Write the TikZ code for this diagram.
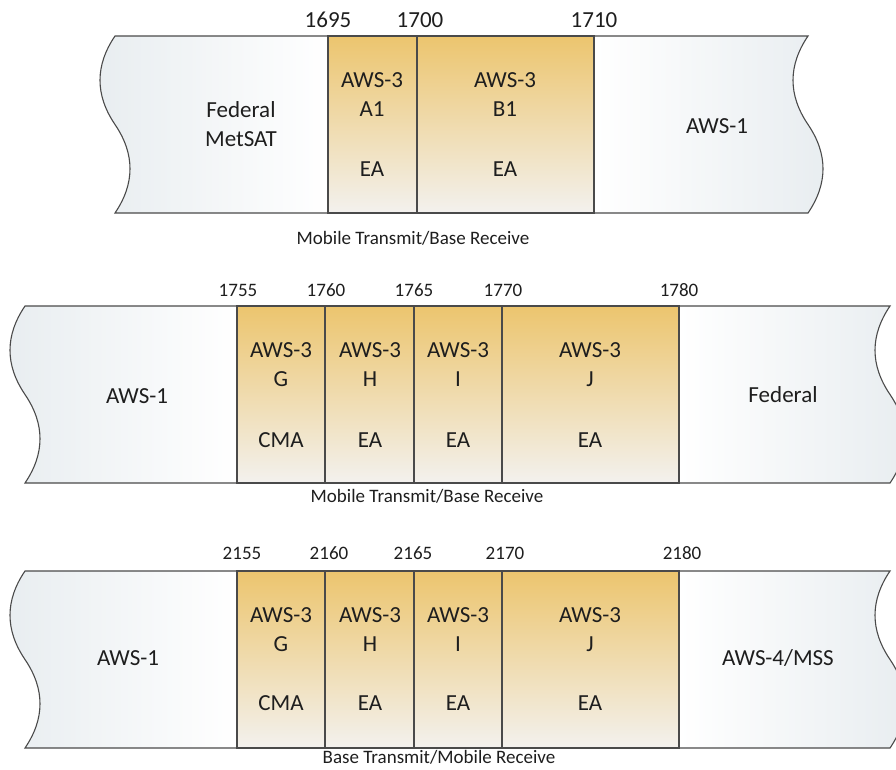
\documentclass[tikz,border=0pt]{standalone}
\usepackage{fontspec}
\setmainfont{Carlito}
\definecolor{gold}{HTML}{ECC56E}
\definecolor{goldmid}{HTML}{F6E5BC}
\definecolor{goldlow}{HTML}{F3F1EE}
\definecolor{sidegray}{HTML}{E8EDF0}
\definecolor{edgeline}{HTML}{4A4A4A}
\definecolor{ink}{HTML}{1E1E1E}
\tikzset{
  bandline/.style={draw=edgeline, line width=1.1pt},
  goldfill/.style={top color=gold, middle color=goldmid, bottom color=goldlow},
  leftfill/.style={left color=sidegray, right color=white},
  rightfill/.style={left color=white, right color=sidegray},
  bandtext/.style={font=\fontsize{23}{29}\selectfont, align=center, text=ink, inner sep=0pt},
  bigfreq/.style={font=\fontsize{23}{26}\selectfont, text=ink, inner sep=0pt},
  freq/.style={font=\fontsize{19}{22}\selectfont, text=ink, inner sep=0pt},
  captext/.style={font=\fontsize{19}{22}\selectfont, text=ink, inner sep=0pt},
}
% left torn block: #1 top, #2 outer x, #3 inner x
\newcommand\leftblock[3]{%
  \path[leftfill] (#3,#1) -- (#2,#1)
    .. controls ({#2-20},{#1+29.5}) and ({#2-20},{#1+59}) .. (#2,{#1+88.5})
    .. controls ({#2+20},{#1+118}) and ({#2+20},{#1+147.5}) .. (#2,{#1+177})
    -- (#3,{#1+177}) -- cycle;
  \draw[bandline] (#3,#1) -- (#2,#1)
    .. controls ({#2-20},{#1+29.5}) and ({#2-20},{#1+59}) .. (#2,{#1+88.5})
    .. controls ({#2+20},{#1+118}) and ({#2+20},{#1+147.5}) .. (#2,{#1+177})
    -- (#3,{#1+177});}
% right torn block: #1 top, #2 inner x, #3 outer x
\newcommand\rightblock[3]{%
  \path[rightfill] (#2,#1) -- (#3,#1)
    .. controls ({#3-20},{#1+29.5}) and ({#3-20},{#1+59}) .. (#3,{#1+88.5})
    .. controls ({#3+20},{#1+118}) and ({#3+20},{#1+147.5}) .. (#3,{#1+177})
    -- (#2,{#1+177}) -- cycle;
  \draw[bandline] (#2,#1) -- (#3,#1)
    .. controls ({#3-20},{#1+29.5}) and ({#3-20},{#1+59}) .. (#3,{#1+88.5})
    .. controls ({#3+20},{#1+118}) and ({#3+20},{#1+147.5}) .. (#3,{#1+177})
    -- (#2,{#1+177});}
% auctioned block: #1 top, #2 left x, #3 right x
\newcommand\goldblock[3]{%
  \path[goldfill] (#2,#1) rectangle (#3,{#1+177});
  \draw[bandline] (#2,#1) rectangle (#3,{#1+177});}
\begin{document}
\begin{tikzpicture}[x=1pt,y=-1pt]
\useasboundingbox (0,0) rectangle (896,769);
\clip (0,0) rectangle (896,769);

% ---------- 1695-1710 MHz ----------
\leftblock{36}{115}{328}
\rightblock{36}{594}{808}
\goldblock{36}{328}{417}
\goldblock{36}{417}{594}
\node[bigfreq] (f1695) at (328,20) {1695};
\node[bigfreq] (f1700) at (420,20) {1700};
\node[bigfreq] (f1710) at (594,20) {1710};
\node[bandtext] (metsat) at (241,124) {Federal\\MetSAT};
\node[bandtext] (a1) at (372,95) {AWS-3\\A1};
\node[bandtext] (a1ea) at (372,169) {EA};
\node[bandtext] (b1) at (505,95) {AWS-3\\B1};
\node[bandtext] (b1ea) at (505,169) {EA};
\node[bandtext] (aws1a) at (717,126) {AWS-1};
\node[captext] (cap1) at (413,238) {Mobile Transmit/Base Receive};

% ---------- 1755-1780 MHz ----------
\leftblock{306}{25}{237}
\rightblock{306}{679}{890}
\goldblock{306}{237}{325}
\goldblock{306}{325}{414}
\goldblock{306}{414}{502}
\goldblock{306}{502}{679}
\node[freq] (f1755) at (238,290) {1755};
\node[freq] (f1760) at (326,290) {1760};
\node[freq] (f1765) at (414,290) {1765};
\node[freq] (f1770) at (503,290) {1770};
\node[freq] (f1780) at (679,290) {1780};
\node[bandtext] (aws1b) at (137,396) {AWS-1};
\node[bandtext] (g2) at (281,365) {AWS-3\\G};
\node[bandtext] (g2cma) at (281,440) {CMA};
\node[bandtext] (h2) at (370,365) {AWS-3\\H};
\node[bandtext] (h2ea) at (370,440) {EA};
\node[bandtext] (i2) at (458,365) {AWS-3\\I};
\node[bandtext] (i2ea) at (458,440) {EA};
\node[bandtext] (j2) at (590,365) {AWS-3\\J};
\node[bandtext] (j2ea) at (590,440) {EA};
\node[bandtext] (fed2) at (783,395) {Federal};
\node[captext] (cap2) at (427,496) {Mobile Transmit/Base Receive};

% ---------- 2155-2180 MHz ----------
\leftblock{571}{25}{237}
\rightblock{571}{679}{890}
\goldblock{571}{237}{325}
\goldblock{571}{325}{414}
\goldblock{571}{414}{502}
\goldblock{571}{502}{679}
\node[freq] (f2155) at (242,553) {2155};
\node[freq] (f2160) at (329,553) {2160};
\node[freq] (f2165) at (413,553) {2165};
\node[freq] (f2170) at (505,553) {2170};
\node[freq] (f2180) at (682,553) {2180};
\node[bandtext] (aws1c) at (128,658) {AWS-1};
\node[bandtext] (g3) at (281,630) {AWS-3\\G};
\node[bandtext] (g3cma) at (281,703) {CMA};
\node[bandtext] (h3) at (370,630) {AWS-3\\H};
\node[bandtext] (h3ea) at (370,703) {EA};
\node[bandtext] (i3) at (458,630) {AWS-3\\I};
\node[bandtext] (i3ea) at (458,703) {EA};
\node[bandtext] (j3) at (590,630) {AWS-3\\J};
\node[bandtext] (j3ea) at (590,703) {EA};
\node[bandtext] (mss) at (778,658) {AWS-4/MSS};
\node[captext] (cap3) at (439,757) {Base Transmit/Mobile Receive};
\end{tikzpicture}
\end{document}
